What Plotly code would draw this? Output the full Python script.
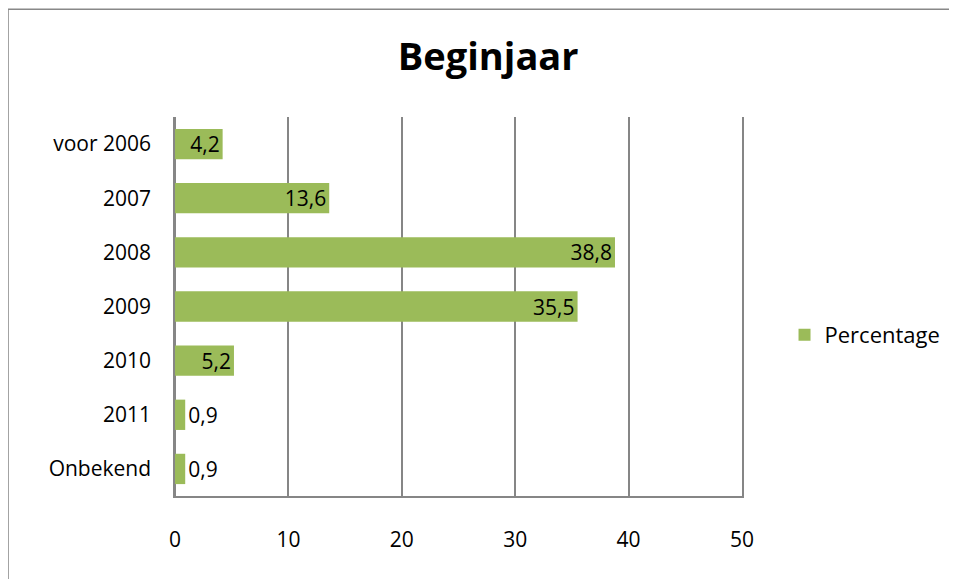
import plotly.graph_objects as go

categories = ["voor 2006", "2007", "2008", "2009", "2010", "2011", "Onbekend"]
percentages = [4.2, 13.6, 38.8, 35.5, 5.2, 0.9, 0.9]
label_positions = ["inside", "inside", "inside", "inside", "inside", "outside", "outside"]
x_ticks = [0, 10, 20, 30, 40, 50]

FONT = "'Open Sans', sans-serif"
GREEN = "#9BBB59"
GRID = "#868686"

fig = go.Figure()
fig.add_trace(go.Bar(
    y=categories, x=percentages, orientation="h",
    name="Percentage",
    marker=dict(color=GREEN, line=dict(width=0)),
    texttemplate="%{x:.1f}",
    textposition=label_positions,
    insidetextanchor="end",
    textfont=dict(family=FONT, size=21, color="black"),
    constraintext="none",
    cliponaxis=False,
))

# page body adds an 8px offset, so the figure is 8px smaller
fig.update_layout(
    width=949, height=571,
    paper_bgcolor="white", plot_bgcolor="white",
    margin=dict(l=167, r=215, t=109, b=83, autoexpand=False),
    separators=", ",
    font=dict(family=FONT, size=21, color="black"),
    title=dict(text="<b>Beginjaar</b>", x=0.506, xref="container", xanchor="center",
               y=0.915, yref="container", yanchor="middle",
               font=dict(family=FONT, size=38, color="black")),
    bargap=0.44,
    showlegend=True,
    legend=dict(x=1.075, y=0.425, xanchor="left", yanchor="middle",
                font=dict(family=FONT, size=22, color="black"),
                itemwidth=30, bgcolor="rgba(0,0,0,0)"),
    xaxis=dict(range=[0, 50], tickvals=x_ticks, showgrid=True, gridcolor=GRID, gridwidth=1.5,
               zeroline=True, zerolinecolor=GRID, zerolinewidth=1.5,
               showline=True, linecolor=GRID, linewidth=1.5,
               ticks="", ticklabelstandoff=24, tickfont=dict(size=21)),
    yaxis=dict(autorange="reversed", showgrid=False, zeroline=False,
               showline=True, mirror=True, linecolor=GRID, linewidth=1.5,
               ticks="", ticklabelstandoff=18, tickfont=dict(size=21)),
    shapes=[dict(type="path", xref="paper", yref="paper",
                 path="M -0.2945,-0.3 L -0.2945,1.2845 L 1.5,1.2845",
                 line=dict(color="#888888", width=1.5))],
)

fig.write_html("out.html")
